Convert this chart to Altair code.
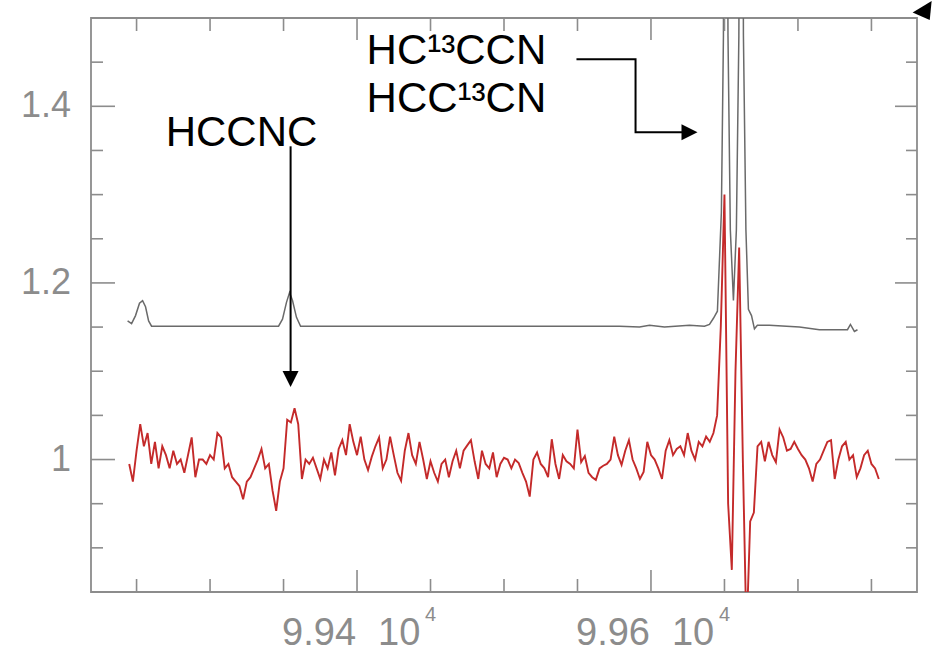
import altair as alt
import pandas as pd

W, H = 826, 574
X_DOMAIN = [99219, 99781]
Y_DOMAIN = [0.85, 1.5]

# ---- observed spectrum (red), uniform channel grid ----
red_start = 99245.0
red_step = 2.5
red_values = [
    0.995, 0.975, 1.01, 1.04, 1.015, 1.03, 0.995, 1.02, 0.99, 1.015,
    1.005, 0.99, 1.01, 0.995, 1.0, 0.985, 1.005, 1.025, 0.98, 1.0,
    1.0, 0.995, 1.005, 1.0, 1.03, 1.025, 0.99, 0.995, 0.98, 0.975,
    0.97, 0.955, 0.975, 0.98, 0.99, 1.0, 1.012, 0.99, 0.995, 0.965,
    0.942, 0.975, 0.99, 1.045, 1.042, 1.058, 1.04, 0.978, 1.0, 0.995,
    1.002, 0.99, 0.978, 1.0, 0.99, 1.008, 0.982, 1.012, 1.022, 1.005,
    1.04, 1.02, 1.005, 1.026, 1.0, 0.988, 1.003, 1.015, 1.025, 0.99,
    1.0, 1.026, 1.005, 0.985, 0.976, 1.01, 1.03, 1.005, 0.995, 1.02,
    1.0, 0.978, 0.998, 0.985, 0.975, 0.995, 1.0, 0.98, 0.998, 1.01,
    0.99, 1.01, 1.016, 1.022, 0.998, 0.978, 1.01, 0.995, 0.99, 1.008,
    0.98, 0.995, 1.002, 1.0, 0.99, 1.0, 0.996, 0.985, 0.975, 0.958,
    1.0, 1.008, 0.995, 0.99, 0.98, 1.023, 0.995, 0.978, 1.005, 0.998,
    0.995, 0.99, 1.034, 0.997, 1.004, 0.985, 0.98, 0.977, 0.99, 0.993,
    0.995, 1.0, 1.026, 1.005, 0.994, 1.01, 1.022, 1.0, 0.99, 0.978,
    0.986, 1.02, 1.005, 1.0, 0.99, 0.978, 1.01, 1.022, 1.005, 1.012,
    1.015, 1.005, 1.03, 1.01, 1.0, 1.02, 1.015, 1.026, 1.02, 1.03,
    1.05, 1.15, 1.30, 0.95, 0.875, 1.10, 1.24, 1.0, 0.8, 0.93,
    0.94, 1.015, 1.02, 0.998, 1.02, 1.005, 0.997, 1.034, 1.025, 1.01,
    1.012, 1.02, 1.012, 1.005, 1.0, 0.99, 0.975, 0.995, 1.0, 1.01,
    1.02, 1.022, 0.978, 1.0, 1.015, 1.02, 1.0, 1.005, 0.98, 0.99,
    1.005, 1.01, 0.995, 0.99, 0.978,
]
red_freq = [red_start + i * red_step for i in range(len(red_values))]

# ---- model spectrum (grey) ----
model_freq = [
    99243.9, 99246.6, 99249.3, 99252.0, 99254.1, 99256.1, 99258.2, 99260.2,
    99346.6, 99349.3, 99352.0, 99354.1, 99356.1, 99358.8, 99361.6,
    99578.6, 99592.2, 99599.0, 99609.2, 99626.2, 99636.4, 99639.8, 99642.5,
    99645.2, 99647.9, 99649.3, 99650.6, 99652.4, 99654.0, 99656.1, 99658.1,
    99659.8, 99661.5, 99662.9, 99664.6, 99666.3, 99668.4, 99670.4, 99672.4,
    99680.6, 99701.0, 99714.6, 99733.7, 99735.7, 99738.4, 99740.5,
]
model_values = [
    1.157, 1.154, 1.163, 1.177, 1.180, 1.173, 1.157, 1.151,
    1.151, 1.159, 1.178, 1.189, 1.180, 1.161, 1.151,
    1.151, 1.150, 1.152, 1.150, 1.152, 1.151, 1.153, 1.160,
    1.168, 1.28, 1.48, 2.2, 1.48, 1.26, 1.18, 1.26,
    1.48, 2.2, 1.48, 1.26, 1.17, 1.163, 1.148, 1.152,
    1.152, 1.150, 1.147, 1.147, 1.153, 1.145, 1.147,
]

# ---- axes ----
x_minor_ticks = [99250, 99300, 99350, 99450, 99500, 99550, 99650, 99700, 99750]
x_major_ticks = [99400, 99600]
x_major_labels = ["9.94", "9.96"]
x_exp_base = ["10", "10"]
x_exp_sup = ["4", "4"]
y_minor_ticks = [0.9, 0.95, 1.05, 1.1, 1.15, 1.25, 1.3, 1.35, 1.45]
y_major_ticks = [1.0, 1.2, 1.4]
y_major_labels = ["1", "1.2", "1.4"]

# ---- annotations ----
label_hccnc = "HCCNC"
label_iso1 = "HC\u00b9\u00b3CCN"
label_iso2 = "HCC\u00b9\u00b3CN"
hccnc_text_pos = (99321.4, 1.3547)
iso_text_x = 99406.5
iso_text_y = [1.4476, 1.3932]
hccnc_arrow = {"x": 99354.8, "y": 1.3547, "y2": 1.0997, "head_y": 1.0912}
iso_path_x = [99549.3, 99589.5, 99589.5, 99622.1]
iso_path_y = [1.4532, 1.4532, 1.3705, 1.3705]
iso_head = (99626.2, 1.3705)
corner_head = (99784.5, 1.5085)

GREY = "#8c8c8c"
FONT = "Liberation Sans"

xs = alt.Scale(domain=X_DOMAIN, nice=False, zero=False)
ys = alt.Scale(domain=Y_DOMAIN, nice=False, zero=False)

red_df = pd.DataFrame({"f": red_freq, "v": red_values})
model_df = pd.DataFrame({"f": model_freq, "v": model_values})

model = alt.Chart(model_df).mark_line(color="#6a6a6a", strokeWidth=1.5, clip=True).encode(
    x=alt.X("f:Q", scale=xs, axis=None),
    y=alt.Y("v:Q", scale=ys, axis=None),
)
red = alt.Chart(red_df).mark_line(color="#c42a2a", strokeWidth=1.9, clip=True).encode(
    x=alt.X("f:Q", scale=xs, axis=None),
    y=alt.Y("v:Q", scale=ys, axis=None),
)

xmaj = pd.DataFrame({"f": x_major_ticks, "lab": x_major_labels, "b": x_exp_base, "s": x_exp_sup})
xmin = pd.DataFrame({"f": x_minor_ticks})
ymaj = pd.DataFrame({"v": y_major_ticks, "lab": y_major_labels})
ymin = pd.DataFrame({"v": y_minor_ticks})


def xtick(df, y0, y1):
    return alt.Chart(df).mark_rule(color=GREY, strokeWidth=1.6).encode(
        x=alt.X("f:Q", scale=xs, axis=None), y=alt.value(y0), y2=alt.value(y1))


def ytick(df, x0, x1):
    return alt.Chart(df).mark_rule(color=GREY, strokeWidth=1.6).encode(
        y=alt.Y("v:Q", scale=ys, axis=None), x=alt.value(x0), x2=alt.value(x1))


ticks = [
    xtick(xmaj, H, H - 22), xtick(xmin, H, H - 13),
    xtick(xmaj, 0, 22), xtick(xmin, 0, 13),
    ytick(ymaj, 0, 24), ytick(ymin, 0, 12),
    ytick(ymaj, W, W - 22), ytick(ymin, W, W - 11),
]

ylab = alt.Chart(ymaj).mark_text(
    align="right", baseline="middle", font=FONT, fontSize=36, color=GREY
).encode(y=alt.Y("v:Q", scale=ys, axis=None), x=alt.value(-20), text="lab:N")

xlab_main = alt.Chart(xmaj).mark_text(
    align="right", baseline="alphabetic", font=FONT, fontSize=38, color=GREY, dx=-1
).encode(x=alt.X("f:Q", scale=xs, axis=None), y=alt.value(627), text="lab:N")
xlab_base = alt.Chart(xmaj).mark_text(
    align="left", baseline="alphabetic", font=FONT, fontSize=38, color=GREY, dx=21
).encode(x=alt.X("f:Q", scale=xs, axis=None), y=alt.value(627), text="b:N")
xlab_sup = alt.Chart(xmaj).mark_text(
    align="left", baseline="alphabetic", font=FONT, fontSize=20, color=GREY, dx=68
).encode(x=alt.X("f:Q", scale=xs, axis=None), y=alt.value(603), text="s:N")

txt1 = alt.Chart(pd.DataFrame({"f": [hccnc_text_pos[0]], "v": [hccnc_text_pos[1]], "t": [label_hccnc]})).mark_text(
    align="center", baseline="alphabetic", font=FONT, fontSize=42, color="black"
).encode(x=alt.X("f:Q", scale=xs, axis=None), y=alt.Y("v:Q", scale=ys, axis=None), text="t:N")
txt2 = alt.Chart(pd.DataFrame({"f": [iso_text_x, iso_text_x], "v": iso_text_y, "t": [label_iso1, label_iso2]})).mark_text(
    align="left", baseline="alphabetic", font=FONT, fontSize=42, color="black"
).encode(x=alt.X("f:Q", scale=xs, axis=None), y=alt.Y("v:Q", scale=ys, axis=None), text="t:N")

arrow1 = alt.Chart(pd.DataFrame({"f": [hccnc_arrow["x"]], "v": [hccnc_arrow["y"]], "v2": [hccnc_arrow["y2"]]})).mark_rule(
    color="black", strokeWidth=2
).encode(x=alt.X("f:Q", scale=xs, axis=None), y=alt.Y("v:Q", scale=ys, axis=None), y2="v2:Q")
head1 = alt.Chart(pd.DataFrame({"f": [hccnc_arrow["x"]], "v": [hccnc_arrow["head_y"]]})).mark_point(
    shape="M-1,-1L1,-1L0,1Z", filled=True, size=256, color="black", opacity=1, strokeWidth=0
).encode(x=alt.X("f:Q", scale=xs, axis=None), y=alt.Y("v:Q", scale=ys, axis=None))

path2 = alt.Chart(pd.DataFrame({"f": iso_path_x, "v": iso_path_y, "o": list(range(len(iso_path_x)))})).mark_line(
    color="black", strokeWidth=2
).encode(x=alt.X("f:Q", scale=xs, axis=None), y=alt.Y("v:Q", scale=ys, axis=None), order="o:Q")
head2 = alt.Chart(pd.DataFrame({"f": [iso_head[0]], "v": [iso_head[1]]})).mark_point(
    shape="M-1,-1L1,0L-1,1Z", filled=True, size=256, color="black", opacity=1, strokeWidth=0
).encode(x=alt.X("f:Q", scale=xs, axis=None), y=alt.Y("v:Q", scale=ys, axis=None))
head3 = alt.Chart(pd.DataFrame({"f": [corner_head[0]], "v": [corner_head[1]]})).mark_point(
    shape="M-1,0.2L1,-1L0.8,1Z", filled=True, size=361, color="black", opacity=1, strokeWidth=0
).encode(x=alt.X("f:Q", scale=xs, axis=None), y=alt.Y("v:Q", scale=ys, axis=None))

chart = alt.layer(
    model, red, *ticks, ylab, xlab_main, xlab_base, xlab_sup,
    txt1, txt2, arrow1, head1, path2, head2, head3,
).properties(
    width=W, height=H,
    padding={"left": 91, "top": 18, "right": 16, "bottom": 61},
    autosize=alt.AutoSizeParams(type="none"),
    background="white",
).configure_view(stroke=GREY, strokeWidth=1.8)

chart.save("out.html", embed_options={"renderer": "svg", "actions": False})
